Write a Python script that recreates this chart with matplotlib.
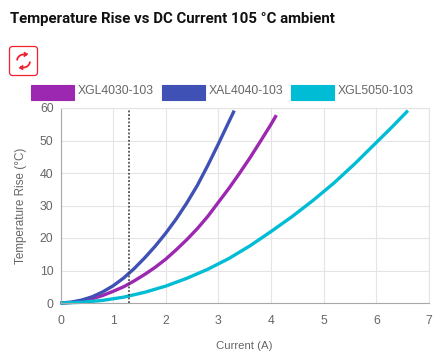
import matplotlib
matplotlib.use("Agg")
import matplotlib.pyplot as plt
from matplotlib.patches import FancyBboxPatch, Rectangle, Arc, Polygon

W, H = 441, 358

# values
xgl4030_x = [0, 0.2, 0.4, 0.6, 0.8, 1, 1.2, 1.4, 1.6, 1.8, 2, 2.2, 2.4, 2.6, 2.8, 3, 3.2, 3.4, 3.6, 3.8, 4, 4.1]
xgl4030_y = [0, 0.15, 0.6, 1.3, 2.3, 3.6, 5.0, 6.8, 8.8, 11.0, 13.5, 16.4, 19.5, 22.9, 26.7, 31, 35.3, 39.9, 44.7, 49.8, 55, 57.8]
xal4040_x = [0, 0.2, 0.4, 0.6, 0.8, 1, 1.2, 1.4, 1.6, 1.8, 2, 2.2, 2.4, 2.6, 2.8, 3, 3.2, 3.3]
xal4040_y = [0, 0.25, 0.9, 1.9, 3.4, 5.3, 7.7, 10.6, 13.9, 17.5, 21.5, 25.9, 30.8, 36.2, 42.4, 49.0, 55.8, 59.2]
xgl5050_x = [0, 0.4, 0.8, 1.2, 1.6, 2, 2.4, 2.8, 3.2, 3.6, 4, 4.4, 4.8, 5.2, 5.6, 6, 6.3, 6.6]
xgl5050_y = [0, 0.2, 0.8, 1.8, 3.3, 5.2, 7.6, 10.4, 13.7, 17.6, 22, 26.6, 31.6, 37.0, 43.0, 49.4, 54.2, 59.2]

names = ["XGL4030-103", "XAL4040-103", "XGL5050-103"]
colors = ["#9c27b0", "#3f51b5", "#00bcd4"]
x_ticks = [0, 1, 2, 3, 4, 5, 6, 7]
y_ticks = [0, 10, 20, 30, 40, 50, 60]
marker_x = 1.3

plt.rcParams['font.family'] = ['Liberation Sans', 'DejaVu Sans']
txt = "#666666"

fig = plt.figure(figsize=(W / 100, H / 100), dpi=100)
ax = fig.add_axes([60.5 / W, 1 - 303 / H, (429 - 60.5) / W, (303 - 108) / H])
ax.set_xlim(0, 7)
ax.set_ylim(0, 60)
ax.set_xticks(x_ticks)
ax.set_yticks(y_ticks)
ax.grid(True, color="#e4e4e4", lw=0.8)
ax.set_axisbelow(True)
ax.tick_params(colors=txt, labelsize=8.8, length=0)
ax.tick_params(axis="x", pad=9)
ax.tick_params(axis="y", pad=5)
for s in ["top", "right"]:
    ax.spines[s].set_color("#e4e4e4")
for s in ["left", "bottom"]:
    ax.spines[s].set_color("#a8a8a8")
ax.set_xlabel("Current (A)", color=txt, fontsize=8.2, labelpad=10)
ax.set_ylabel("Temperature Rise (°C)", color=txt, fontsize=8.4, labelpad=9)

ax.plot(xgl4030_x, xgl4030_y, color=colors[0], lw=2.4, solid_capstyle="butt", clip_on=False)
ax.plot(xal4040_x, xal4040_y, color=colors[1], lw=2.4, solid_capstyle="butt", clip_on=False)
ax.plot(xgl5050_x, xgl5050_y, color=colors[2], lw=2.4, solid_capstyle="butt", clip_on=False)
ax.axvline(marker_x, color="#444444", lw=1.2, ls=(0, (1.1, 1.1)))

# overlay in pixel coordinates for title, button and legend
ov = fig.add_axes([0, 0, 1, 1])
ov.set_xlim(0, W)
ov.set_ylim(H, 0)
ov.axis("off")
ov.patch.set_alpha(0)

ov.text(10, 19, "Temperature Rise vs DC Current 105 °C ambient", family=['Roboto', 'DejaVu Sans'],
        fontsize=10.8, fontweight="bold", color="#111111", va="center")

red = "#f0202f"
ov.add_patch(FancyBboxPatch((9.5, 46.5), 28, 29, boxstyle="round,pad=0,rounding_size=3",
                            fc="white", ec=red, lw=0.9))
ov.add_patch(Arc((23.5, 61), 13, 13, theta1=185, theta2=300, color=red, lw=1.3))
ov.add_patch(Arc((23.5, 61), 13, 13, theta1=5, theta2=120, color=red, lw=1.3))
ov.add_patch(Polygon([[24, 52], [28, 54], [24, 57]], fc=red, ec=red, lw=0.4))
ov.add_patch(Polygon([[23, 70], [19, 68], [23, 65]], fc=red, ec=red, lw=0.4))

legend_x = [30, 161, 290]
for lx, name, c in zip(legend_x, names, colors):
    ov.add_patch(Rectangle((lx + 0.5, 84.5), 43, 15, fc=c, ec=c, lw=0.8))
    ov.text(lx + 48, 90.5, name, color=txt, fontsize=8.8, va="center")

fig.savefig("out.png", dpi=100)
